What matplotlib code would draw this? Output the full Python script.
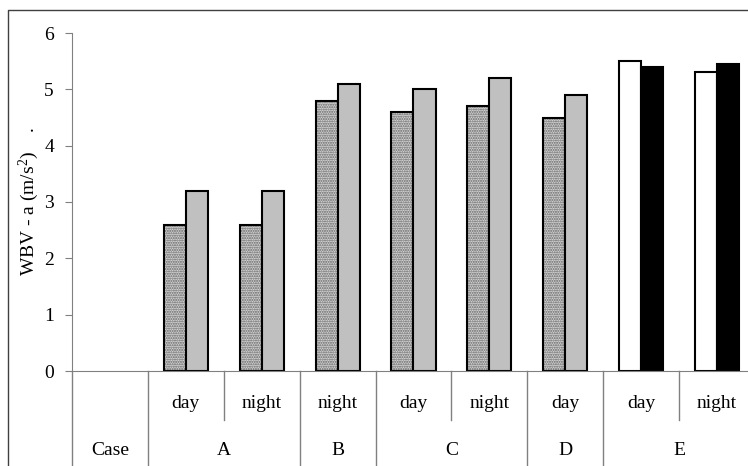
import numpy as np
import matplotlib.pyplot as plt
from matplotlib.lines import Line2D

plt.rcParams['font.family'] = ['Liberation Serif', 'DejaVu Serif']
plt.rcParams['font.size'] = 14
plt.rcParams['mathtext.fontset'] = 'custom'
plt.rcParams['mathtext.rm'] = 'Liberation Serif'
plt.rcParams['mathtext.default'] = 'regular'

# sub-columns (day / night) and their case groups
periods = ['day', 'night', 'night', 'day', 'night', 'day', 'day', 'night']
cases = ['A', 'B', 'C', 'D', 'E']
case_span = [2, 1, 2, 1, 2]

# WBV values per column: first and second bar
wbv_first = [2.6, 2.6, 4.8, 4.6, 4.7, 4.5, 5.5, 5.3]
wbv_second = [3.2, 3.2, 5.1, 5.0, 5.2, 4.9, 5.4, 5.45]

fig = plt.figure(figsize=(7.48, 4.66), dpi=100)
ax = fig.add_axes([72 / 748, 1 - 371 / 466, 683 / 748, 338 / 466])

x = np.arange(1, len(periods) + 1)
w = 0.29
gray = '#808080'
col_case = np.repeat(cases, case_span)

for i, xi in enumerate(x):
    if col_case[i] == 'E':
        ax.bar(xi - w / 2, wbv_first[i], w, color='white', edgecolor='black', lw=1.5)
        ax.bar(xi + w / 2, wbv_second[i], w, color='black', edgecolor='black', lw=1.5)
    else:
        # stippled bar: hatch layer, then outline on top
        ax.bar(xi - w / 2, wbv_first[i], w, color='#d4d4d4', edgecolor='#606060',
               hatch='.......', lw=0)
        ax.bar(xi - w / 2, wbv_first[i], w, fill=False, edgecolor='black', lw=1.5)
        ax.bar(xi + w / 2, wbv_second[i], w, color='#c0c0c0', edgecolor='black', lw=1.5)

ax.set_xlim(-0.5, 8.5)
ax.set_ylim(0, 6)
ax.set_yticks(range(0, 7))
ax.set_xticks([])
ax.tick_params(axis='y', direction='out', length=5, color=gray, labelsize=14, pad=8)
for s in ['top', 'right']:
    ax.spines[s].set_visible(False)
ax.spines['left'].set_color(gray)
ax.spines['bottom'].set_color(gray)
ax.set_ylabel('WBV - a (m/s$^2$)    .', fontsize=14, labelpad=2)

# table below the axis
tr = ax.get_xaxis_transform()
bounds = np.concatenate([[0.5], 0.5 + np.cumsum(case_span)])
for b in np.concatenate([[-0.5], bounds[:-1]]):
    ax.add_line(Line2D([b, b], [0, -0.4], transform=tr, color=gray, lw=1, clip_on=False))
start = 0.5
for n in case_span:
    if n == 2:
        ax.add_line(Line2D([start + 1, start + 1], [0, -0.145], transform=tr,
                           color=gray, lw=1, clip_on=False))
    start += n

for xi, p in zip(x, periods):
    ax.text(xi, -0.095, p, transform=tr, ha='center', va='center')
ax.text(0, -0.234, 'Case', transform=tr, ha='center', va='center')
for lo, hi, c in zip(bounds[:-1], bounds[1:], cases):
    ax.text((lo + hi) / 2, -0.234, c, transform=tr, ha='center', va='center')

# outer frame
fig.add_artist(Line2D([8 / 748, 8 / 748, 1.0], [0, 1 - 10 / 466, 1 - 10 / 466],
                      transform=fig.transFigure, color='#404040', lw=1))

fig.savefig('out.png', dpi=100)
